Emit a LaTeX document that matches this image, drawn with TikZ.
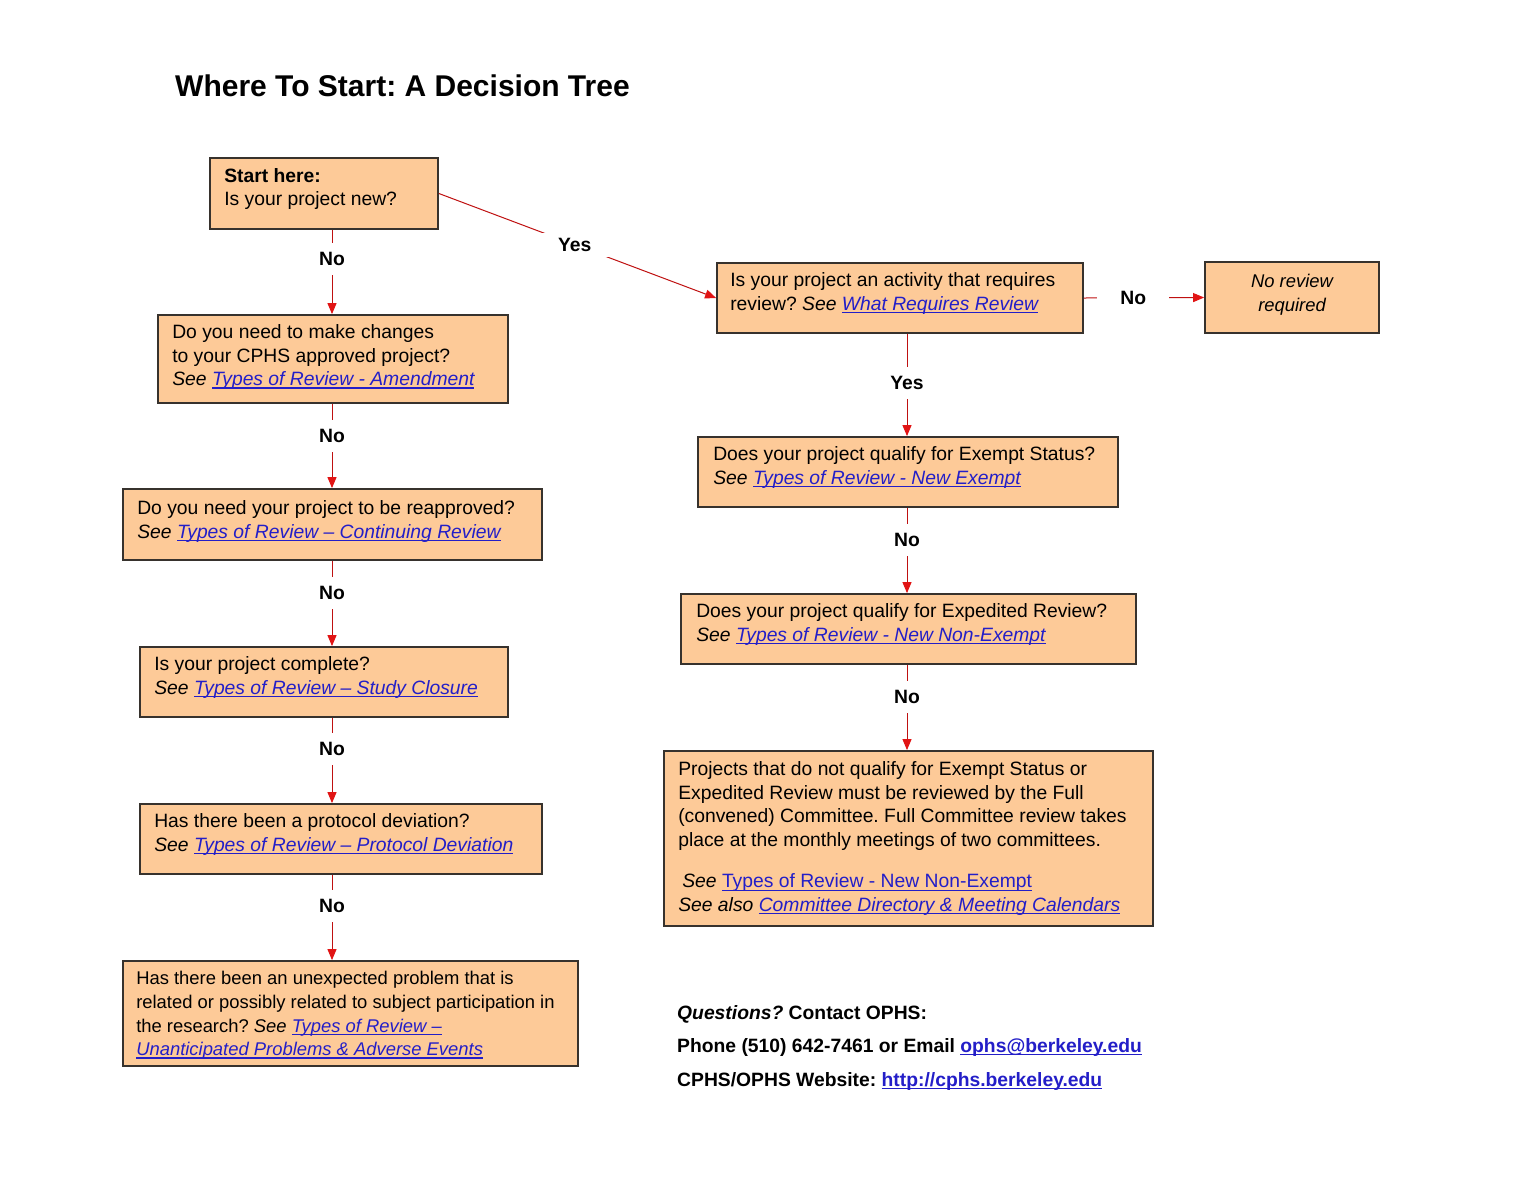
\documentclass[tikz,border=0pt]{standalone}
\usepackage{fontspec}
\setmainfont{Liberation Sans}
\frenchspacing
\usetikzlibrary{arrows.meta}
\definecolor{boxfill}{RGB}{253,202,152}
\definecolor{boxline}{RGB}{55,50,45}
\definecolor{linkc}{RGB}{35,30,200}
\definecolor{arrred}{RGB}{225,20,20}
\newcommand\lnk[1]{{\color{linkc}\setbox0\hbox{#1}\rlap{\rule[-3.2pt]{\wd0}{1.4pt}}\box0}}
\newcommand\lnki[1]{\lnk{\itshape #1}}
\begin{document}
\begin{tikzpicture}[x=1pt,y=-1pt,
  box/.style={draw=boxline,line width=1.8pt,fill=boxfill,rectangle,inner sep=0pt},
  txt/.style={align=left,inner sep=0pt,anchor=west,yshift=4.5pt,font=\fontsize{19.3}{23.5}\selectfont},
  arr/.style={draw=arrred!85!black,line width=1pt,-{Triangle[length=11pt,width=9pt,color=arrred]}},
  lbl/.style={fill=white,inner sep=0pt,minimum width=40pt,minimum height=32pt,font=\fontsize{19.3}{23.5}\selectfont\bfseries},
  lblw/.style={lbl,minimum width=72pt,minimum height=24pt}]
\fill[white] (0,0) rectangle (1536,1187);
\useasboundingbox (0,0) rectangle (1536,1187);

\node[anchor=base west,inner sep=0pt,font=\fontsize{30}{36}\selectfont\bfseries] (title) at (175,96.5) {Where To Start: A Decision Tree};

\coordinate (colL) at (332,0);
\coordinate (colR) at (907,0);

% boxes
\node[box,minimum width=228pt,minimum height=71pt] (start) at (324,193.5) {};
\node[box,minimum width=350pt,minimum height=88pt] (amend) at (333,359) {};
\node[box,minimum width=419pt,minimum height=71pt] (reapp) at (332.5,524.5) {};
\node[box,minimum width=368pt,minimum height=70pt] (compl) at (324,682) {};
\node[box,minimum width=402pt,minimum height=70pt] (devi) at (341,839) {};
\node[box,minimum width=455pt,minimum height=105pt] (unexp) at (350.5,1013.5) {};
\node[box,minimum width=366pt,minimum height=70pt] (activ) at (900,298) {};
\node[box,minimum width=174pt,minimum height=71pt] (norev) at (1292,297.5) {};
\node[box,minimum width=420pt,minimum height=70pt] (exem) at (908,472) {};
\node[box,minimum width=455pt,minimum height=70pt] (exped) at (908.5,629) {};
\node[box,minimum width=489pt,minimum height=175pt] (full) at (908.5,838.5) {};

% texts
\node[txt] (startT) at ([xshift=15pt]start.west) {\textbf{Start here:}\\Is your project new?};
\node[txt,yshift=-2.5pt] (amendT) at ([xshift=15pt]amend.west) {Do you need to make changes\\to your CPHS approved project?\\\textit{See} \lnki{Types of Review - Amendment}};
\node[txt,yshift=-1.5pt] (reappT) at ([xshift=15pt]reapp.west) {Do you need your project to be reapproved?\\\textit{See} \lnki{Types of Review – Continuing Review}};
\node[txt] (complT) at ([xshift=15pt]compl.west) {Is your project complete?\\\textit{See} \lnki{Types of Review – Study Closure}};
\node[txt] (deviT) at ([xshift=15pt]devi.west) {Has there been a protocol deviation?\\\textit{See} \lnki{Types of Review – Protocol Deviation}};
\node[txt,yshift=-6.5pt,font=\fontsize{18.4}{23.6}\selectfont] (unexpT) at ([xshift=14pt]unexp.west) {Has there been an unexpected problem that is\\related or possibly related to subject participation in\\the research? \textit{See} \lnki{Types of Review –}\\\lnki{Unanticipated Problems \& Adverse Events}};
\node[txt] (activT) at ([xshift=14pt]activ.west) {Is your project an activity that requires\\review? \textit{See} \lnki{What Requires Review}};
\node[txt,yshift=-1.5pt,align=center,anchor=center,font=\fontsize{18.4}{23.5}\selectfont\itshape] (norevT) at (norev.center) {No review\\required};
\node[txt] (exemT) at ([xshift=16pt]exem.west) {Does your project qualify for Exempt Status?\\\textit{See} \lnki{Types of Review - New Exempt}};
\node[txt] (expedT) at ([xshift=16pt]exped.west) {Does your project qualify for Expedited Review?\\\textit{See} \lnki{Types of Review - New Non-Exempt}};
\node[txt,yshift=-4.5pt] (fullT) at ([xshift=15pt]full.west) {Projects that do not qualify for Exempt Status or\\Expedited Review must be reviewed by the Full\\(convened) Committee. Full Committee review takes\\place at the monthly meetings of two committees.\\[18pt]\hspace*{4pt}\textit{See} \lnk{Types of Review - New Non-Exempt}\\\textit{See also} \lnki{Committee Directory \& Meeting Calendars}};

% connectors
\draw[arr] (start.south -| colL) -- node[lbl,pos=0.35]{No} (amend.north -| colL);
\draw[arr] (amend.south -| colL) -- node[lbl,pos=0.38]{No} (reapp.north -| colL);
\draw[arr] (reapp.south -| colL) -- node[lbl,pos=0.38]{No} (compl.north -| colL);
\draw[arr] (compl.south -| colL) -- node[lbl,pos=0.37]{No} (devi.north -| colL);
\draw[arr] (devi.south -| colL) -- node[lbl,pos=0.37]{No} (unexp.north -| colL);
\draw[arr] (start.east) -- node[lblw,pos=0.49]{Yes} (activ.west);
\draw[arr] (activ.east) -- node[lblw,pos=0.41]{No} (norev.west);
\draw[arr] (activ.south -| colR) -- node[lbl,pos=0.48]{Yes} (exem.north -| colR);
\draw[arr] (exem.south -| colR) -- node[lbl,pos=0.38]{No} (exped.north -| colR);
\draw[arr] (exped.south -| colR) -- node[lbl,pos=0.38]{No} (full.north -| colR);

% footer
\begin{scope}[every node/.style={anchor=base west,inner sep=0pt,font=\fontsize{19.3}{23.5}\selectfont\bfseries}]
\node (q1) at (677,1019) {\textit{Questions?} Contact OPHS:};
\node (q2) at (677,1052) {Phone (510) 642-7461 or Email \lnk{ophs@berkeley.edu}};
\node (q3) at (677,1086) {CPHS/OPHS Website: \lnk{http://cphs.berkeley.edu}};
\end{scope}
\end{tikzpicture}
\end{document}
